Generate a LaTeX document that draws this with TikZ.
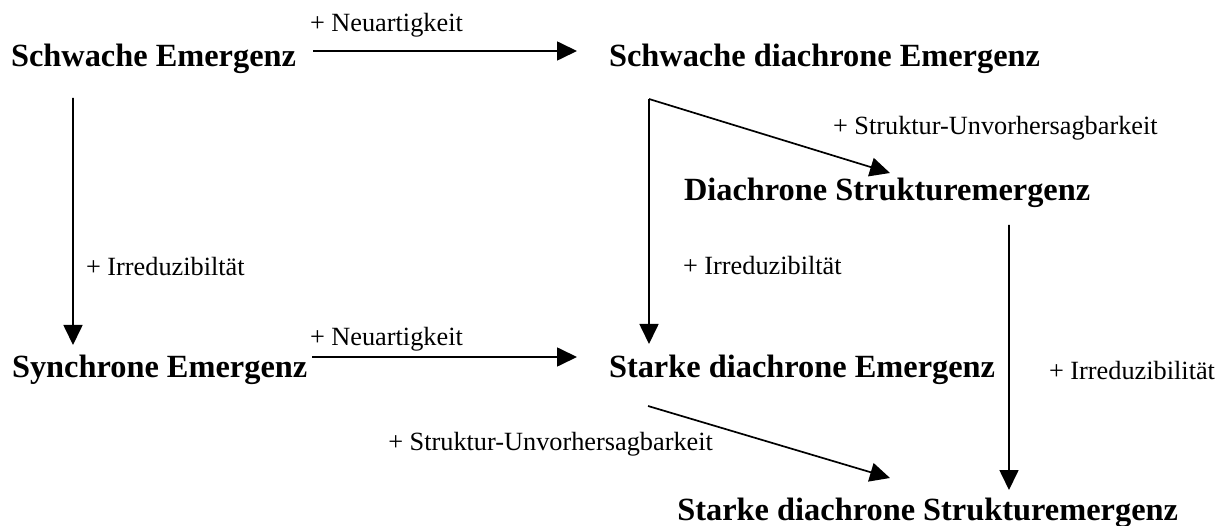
\documentclass[tikz,border=0pt]{standalone}
\usepackage{fontspec}
\setmainfont{Liberation Serif}
\usetikzlibrary{arrows.meta}

\begin{document}
\begin{tikzpicture}[x=1bp,y=1bp]
\tikzstyle{every node}=[inner sep=0pt,outer sep=0pt]
\tikzstyle{begriff}=[font=\fontsize{32.5pt}{36pt}\selectfont\bfseries,text height=22bp,text depth=7bp]
\tikzstyle{zusatz}=[font=\fontsize{26.4pt}{30pt}\selectfont]
\tikzstyle{pfeil}=[line width=1.7bp,-{Triangle[length=20bp,width=19bp]}]

\useasboundingbox (0,0) rectangle (1229,-526);

\node[begriff,anchor=base west] (se) at (11,-67) {Schwache Emergenz};
\node[begriff,anchor=base west] (sde) at (609,-67) {Schwache diachrone Emergenz};
\node[begriff,anchor=base west] (dse) at (684,-201) {Diachrone Strukturemergenz};
\node[begriff,anchor=base west] (sye) at (12,-378) {Synchrone Emergenz};
\node[begriff,anchor=base west] (ste) at (609,-378) {Starke diachrone Emergenz};
\node[begriff,anchor=base east] (sdse) at (1178,-520) {Starke diachrone Strukturemergenz};

\node[zusatz,anchor=base west] (neu1) at (310,-32) {+ Neuartigkeit};
\node[zusatz,anchor=base west] (neu2) at (310,-346) {+ Neuartigkeit};
\node[zusatz,anchor=base west] (irr1) at (86,-276) {+ Irreduzibiltät};
\node[zusatz,anchor=base west] (irr2) at (683,-275) {+ Irreduzibiltät};
\node[zusatz,anchor=base west] (irr3) at (1049,-380) {+ Irreduzibilität};
\node[zusatz,anchor=base west] (unv1) at (833,-135) {+ Struktur-Unvorhersagbarkeit};
\node[zusatz,anchor=base east] (unv2) at (713,-450) {+ Struktur-Unvorhersagbarkeit};

\coordinate (gabel) at ([xshift=40bp,yshift=-25bp]sde.south west);

\draw[pfeil] ([xshift=17bp,yshift=8.5bp]se.east) -- ([xshift=-32bp,yshift=8.5bp]sde.west);
\draw[pfeil] ([xshift=5bp,yshift=13.5bp]sye.east) -- ([xshift=-32bp,yshift=13.5bp]ste.west);
\draw[pfeil] ([xshift=62bp,yshift=-24bp]se.south west) -- ([xshift=61bp,yshift=11bp]sye.north west);
\draw[pfeil] (gabel) -- ([xshift=40bp,yshift=12bp]ste.north west);
\draw[pfeil] (gabel) -- ([xshift=206bp,yshift=6bp]dse.north west);
\draw[pfeil] ([xshift=325bp,yshift=-17bp]dse.south west) -- ([xshift=-169bp,yshift=8bp]sdse.north east);
\draw[pfeil] ([xshift=39bp,yshift=-21bp]ste.south west) -- ([xshift=-288bp,yshift=20bp]sdse.north east);

\end{tikzpicture}
\end{document}
